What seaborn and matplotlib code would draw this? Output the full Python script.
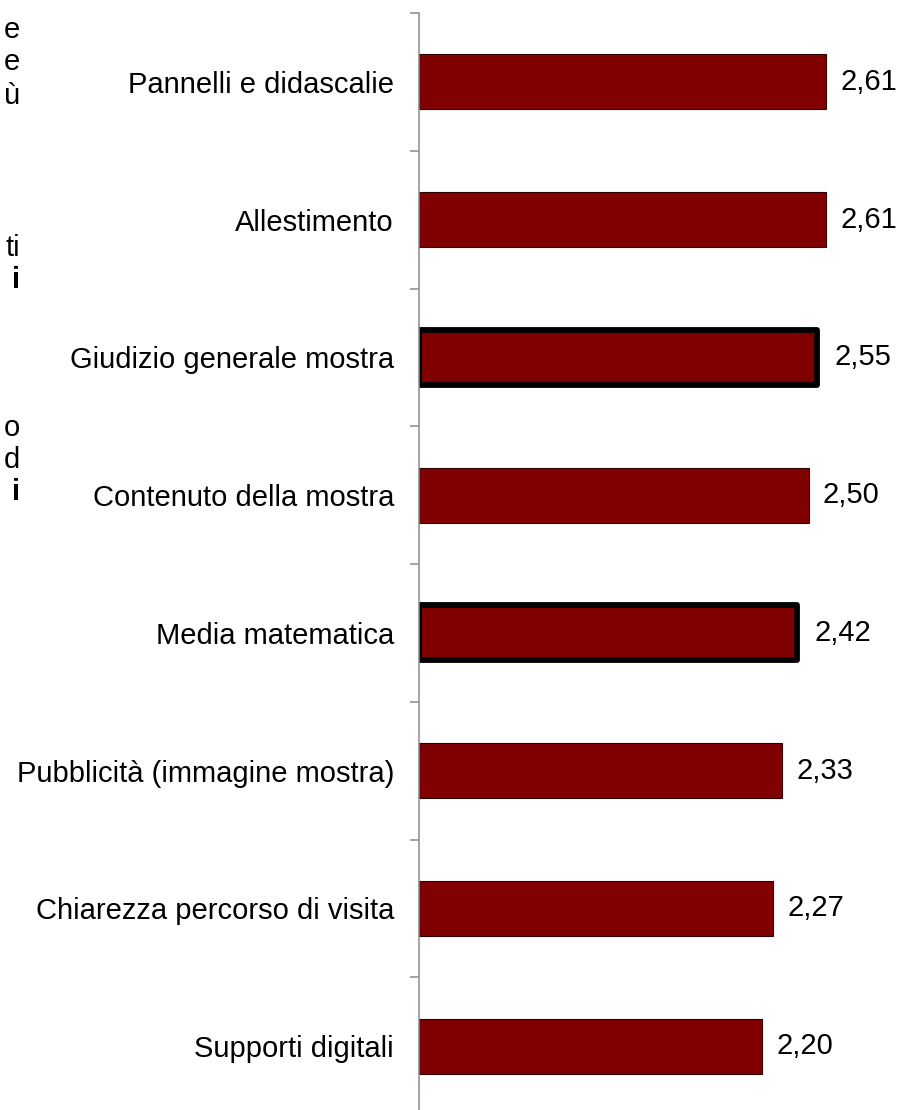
import matplotlib
matplotlib.use("Agg")
import matplotlib.pyplot as plt
import seaborn as sns
import pandas as pd
import numpy as np

# Ratings of the exhibition (mean score per aspect)
categories = [
    "Pannelli e didascalie",
    "Allestimento",
    "Giudizio generale mostra",
    "Contenuto della mostra",
    "Media matematica",
    "Pubblicità (immagine mostra)",
    "Chiarezza percorso di visita",
    "Supporti digitali",
]
scores = [2.61, 2.61, 2.55, 2.50, 2.42, 2.33, 2.27, 2.20]
highlighted = ["Giudizio generale mostra", "Media matematica"]

# Tail ends of the neighbouring text column, clipped by the figure edge
side_lines = ["e", "e", "ù", "ti", "i", "o", "d", "i"]
side_bold = [False, False, False, False, True, False, False, True]
side_y_px = [30, 62, 96, 248, 280, 428, 460, 492]

sns.set_theme(style="white")
plt.rcParams["font.family"] = ["Liberation Sans", "DejaVu Sans"]

W, H, DPI = 901, 1110, 100
fig = plt.figure(figsize=(W / DPI, H / DPI), dpi=DPI)

left_px, top_px, step_px = 419, 13, 137.75
span_px = step_px * len(categories)
ax = fig.add_axes([left_px / W, 1 - (top_px + span_px) / H,
                   (W - left_px) / W, span_px / H])

df = pd.DataFrame({"aspect": categories, "score": scores})
sns.barplot(data=df, x="score", y="aspect", orient="h", color="#800000",
            saturation=1, width=0.4, edgecolor="#2a0000", linewidth=0.8, ax=ax)

for patch, cat in zip(ax.patches, categories):
    if cat in highlighted:
        patch.set_edgecolor("black")
        patch.set_linewidth(4.2)
        patch.set_joinstyle("round")

ax.set_xlim(0, (W - left_px) / 156.0)
ax.set_ylim(len(categories) - 0.5, -0.5)

# Value labels with a decimal comma
for i, (cat, v) in enumerate(zip(categories, scores)):
    off = 13 if cat in highlighted else 10
    ax.annotate(f"{v:.2f}".replace(".", ","), xy=(v, i), xytext=(off, 0),
                textcoords="offset points", va="center", ha="left",
                fontsize=21, color="black")

ax.set_xlabel("")
ax.set_ylabel("")
ax.set_xticks([])
for s in ["top", "right", "bottom"]:
    ax.spines[s].set_visible(False)
ax.spines["left"].set_color("#8c8c8c")
ax.spines["left"].set_linewidth(1.1)

ax.set_yticks(np.arange(len(categories)))
ax.set_yticklabels(categories, fontsize=21, color="black")
ax.set_yticks(np.arange(-0.5, len(categories), 1.0), minor=True)
ax.tick_params(axis="y", which="major", length=0, pad=18)
ax.tick_params(axis="y", which="minor", length=6.5, width=1.1,
               color="#8c8c8c", direction="out", left=True)

for txt, bold, y in zip(side_lines, side_bold, side_y_px):
    fig.text(20 / W, 1 - y / H, txt, ha="right", va="center", fontsize=21,
             fontweight="bold" if bold else "normal", color="black")

fig.savefig("out.png", dpi=DPI, facecolor="white")
